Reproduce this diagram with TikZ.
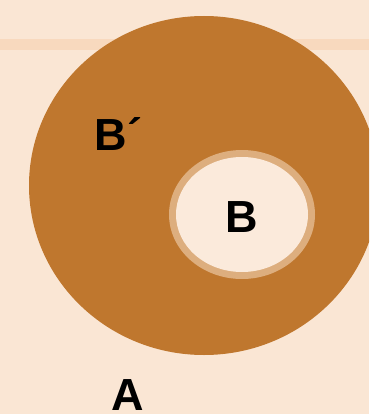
\documentclass[tikz,border=0pt]{standalone}
\usepackage{fontspec}
\setmainfont{Liberation Sans}
\usepackage{tikz}

\definecolor{paper}{HTML}{FAE6D4}
\definecolor{band}{HTML}{F8D9BE}
\definecolor{setcomp}{HTML}{BF772E}
\definecolor{ringtan}{HTML}{DDAE7E}
\definecolor{setin}{HTML}{FBEADB}

\tikzset{
  setlabel/.style={anchor=base west, inner sep=0pt, text=black,
    font=\fontsize{45}{54}\selectfont\bfseries}
}

\begin{document}
\begin{tikzpicture}[x=1pt, y=-1pt]
% frame and background
\useasboundingbox (0,0) rectangle (369,414);
\clip (0,0) rectangle (369,414);
\fill[paper] (0,0) rectangle (369,414);
\fill[band] (0,39) rectangle (369,50);

% universe A holds B and its complement
\fill[setcomp] (204,185.5) ellipse [x radius=175, y radius=169.5];
\fill[ringtan] (242,214.5) ellipse [x radius=73, y radius=64.5];
\fill[setin] (242,214.5) ellipse [x radius=66, y radius=57.5];

% labels
\node[setlabel] (Bc) at (94,150) {B\kern1pt´};
\node[setlabel] (B) at (225,232) {B};
\node[setlabel] (A) at (111,410) {A};
\end{tikzpicture}
\end{document}
